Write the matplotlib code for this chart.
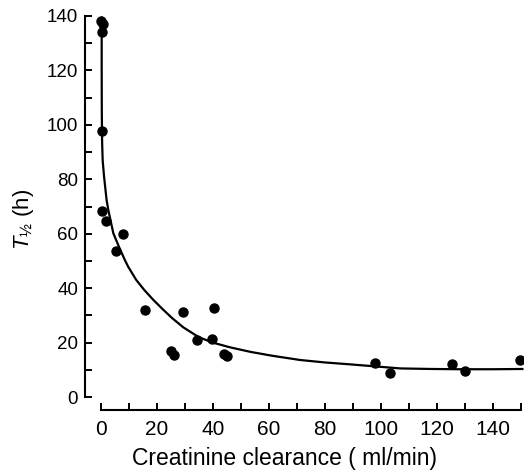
import matplotlib
matplotlib.use("Agg")
import matplotlib.pyplot as plt
from matplotlib.ticker import MultipleLocator

plt.rcParams['font.family'] = ['Liberation Sans', 'DejaVu Sans']
plt.rcParams['mathtext.fontset'] = 'custom'
plt.rcParams['mathtext.rm'] = 'Liberation Sans'
plt.rcParams['mathtext.it'] = 'Liberation Sans:italic'

# Observed points: creatinine clearance (ml/min) vs half-life (h)
clearance = [0.0, 0.9, 0.6, 0.6, 0.6, 1.8, 8.1, 5.4, 15.8, 29.3, 40.6, 34.5,
             39.9, 25.1, 26.2, 44.1, 45.1, 97.9, 103.4, 125.6, 130.0, 149.6]
half_life = [138.3, 137.1, 134.3, 97.9, 68.4, 64.7, 59.9, 53.8, 31.9, 31.4,
             32.6, 20.8, 21.2, 17.0, 15.4, 15.8, 15.0, 12.4, 8.9, 12.1, 9.4, 13.5]

# Fitted curve
curve_x = [0.35, 0.35, 0.4, 0.5, 0.7, 1.2, 2.1, 2.7, 4.5, 6.6, 8.6, 9.8, 12.7,
           15.5, 18.6, 22.0, 25.5, 29.5, 35.0, 40.0, 46.0, 53.4, 61.0, 71.2,
           80.0, 89.0, 99.8, 107.0, 118.0, 128.4, 140.0, 151.0]
curve_y = [139.8, 120.0, 104.0, 94.0, 87.0, 81.0, 72.4, 68.8, 60.2, 55.0, 50.4,
           47.9, 43.0, 39.4, 35.9, 32.4, 29.0, 25.6, 22.0, 20.0, 18.3, 16.6,
           15.2, 13.6, 12.7, 12.0, 11.1, 10.5, 10.3, 10.2, 10.2, 10.3]

x_ticks = [0, 20, 40, 60, 80, 100, 120, 140]
y_ticks = [0, 20, 40, 60, 80, 100, 120, 140]

fig = plt.figure(figsize=(5.24, 4.71), dpi=100)
ax = fig.add_axes([100.7 / 524, 74 / 471, 1 - 100.7 / 524, (397 - 16) / 471])

ax.plot(curve_x, curve_y, color='black', lw=1.6, solid_capstyle='butt',
        solid_joinstyle='round', clip_on=False)
ax.plot(clearance, half_life, 'o', color='black', ms=6.5, clip_on=False)

ax.set_xlim(0, (524 - 100.7) / 2.80)
ax.set_ylim(0, 140)

for s in ['top', 'right']:
    ax.spines[s].set_visible(False)
ax.spines['left'].set_position(('outward', 11.3))
ax.spines['bottom'].set_position(('outward', 9.4))
ax.spines['left'].set_bounds(0, 140)
ax.spines['bottom'].set_bounds(0, 150)
for s in ['left', 'bottom']:
    ax.spines[s].set_linewidth(1.5)

ax.set_xticks(x_ticks)
ax.set_yticks(y_ticks)
ax.xaxis.set_minor_locator(MultipleLocator(10))
ax.yaxis.set_minor_locator(MultipleLocator(10))
ax.tick_params(which='both', direction='in', length=5, width=1.4)
ax.tick_params(axis='x', which='major', labelsize=15, pad=7.5)
ax.tick_params(axis='y', which='major', labelsize=13.5, pad=5)

ax.set_xlabel('Creatinine clearance ( ml/min)', fontsize=16.5)
ax.xaxis.set_label_coords((285 - 100.7) / 423.3, (397 - 447) / 381)
ax.set_ylabel(r'$T_{½}$ (h)', fontsize=16)
ax.yaxis.set_label_coords((36 - 100.7) / 423.3, (397 - 219) / 381)

fig.savefig('out.png', dpi=100)
